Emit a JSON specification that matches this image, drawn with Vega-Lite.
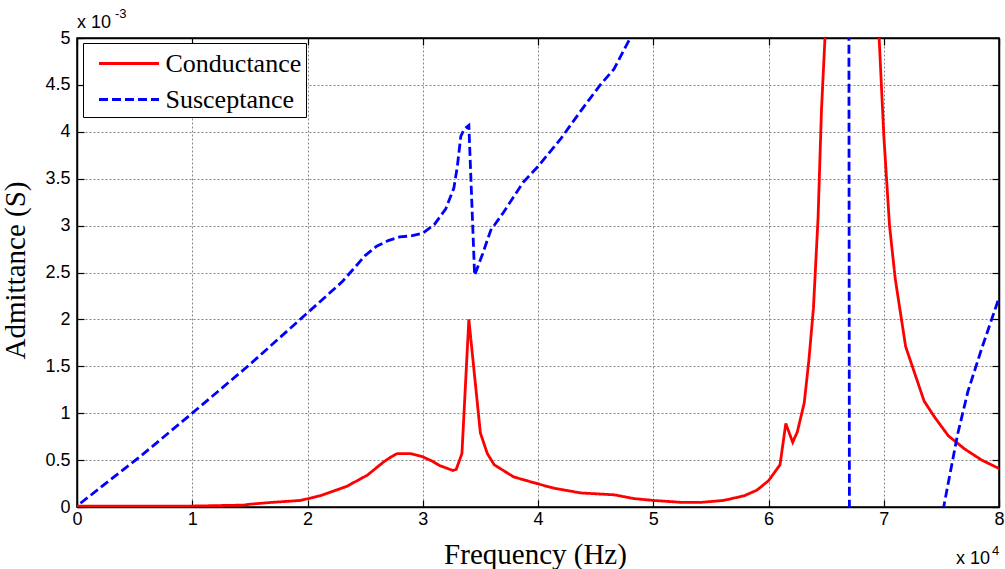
{
  "$schema": "https://vega.github.io/schema/vega-lite/v6.json",
  "width": 922,
  "height": 469,
  "autosize": {"type": "none"},
  "padding": {"left": 77, "top": 38, "right": 6, "bottom": 62},
  "background": "white",
  "config": {
    "view": {"stroke": "black", "strokeWidth": 1.5},
    "axis": {
      "domainColor": "black",
      "domainWidth": 1.5,
      "tickColor": "black",
      "tickWidth": 1.2,
      "tickSize": -7,
      "labelFont": "Liberation Sans",
      "labelFontSize": 18,
      "labelColor": "black",
      "labelFlush": false,
      "labelOverlap": false,
      "labelBound": false,
      "titleFont": "Liberation Serif",
      "titleFontSize": 29,
      "titleFontWeight": "normal",
      "titleColor": "black",
      "gridColor": "#7a7a7a",
      "gridDash": [2, 2],
      "gridWidth": 1,
      "gridOpacity": 0.9
    }
  },
  "data": {
    "values": [
      {"series": "Conductance", "freq": 0.0, "adm": 0.01},
      {"series": "Conductance", "freq": 0.5, "adm": 0.01},
      {"series": "Conductance", "freq": 1.0, "adm": 0.01},
      {"series": "Conductance", "freq": 1.45, "adm": 0.02},
      {"series": "Conductance", "freq": 1.5, "adm": 0.03},
      {"series": "Conductance", "freq": 1.7, "adm": 0.05},
      {"series": "Conductance", "freq": 1.94, "adm": 0.07},
      {"series": "Conductance", "freq": 2.11, "adm": 0.12},
      {"series": "Conductance", "freq": 2.34, "adm": 0.22},
      {"series": "Conductance", "freq": 2.52, "adm": 0.34},
      {"series": "Conductance", "freq": 2.66, "adm": 0.48},
      {"series": "Conductance", "freq": 2.72, "adm": 0.53},
      {"series": "Conductance", "freq": 2.78, "adm": 0.57},
      {"series": "Conductance", "freq": 2.89, "adm": 0.57},
      {"series": "Conductance", "freq": 2.99, "adm": 0.54},
      {"series": "Conductance", "freq": 3.08, "adm": 0.49},
      {"series": "Conductance", "freq": 3.15, "adm": 0.44},
      {"series": "Conductance", "freq": 3.26, "adm": 0.39},
      {"series": "Conductance", "freq": 3.29, "adm": 0.4},
      {"series": "Conductance", "freq": 3.34, "adm": 0.57},
      {"series": "Conductance", "freq": 3.4, "adm": 2.0},
      {"series": "Conductance", "freq": 3.5, "adm": 0.79},
      {"series": "Conductance", "freq": 3.56, "adm": 0.57},
      {"series": "Conductance", "freq": 3.62, "adm": 0.45},
      {"series": "Conductance", "freq": 3.79, "adm": 0.32},
      {"series": "Conductance", "freq": 3.99, "adm": 0.25},
      {"series": "Conductance", "freq": 4.14, "adm": 0.2},
      {"series": "Conductance", "freq": 4.37, "adm": 0.15},
      {"series": "Conductance", "freq": 4.66, "adm": 0.13},
      {"series": "Conductance", "freq": 4.83, "adm": 0.09},
      {"series": "Conductance", "freq": 5.0, "adm": 0.07},
      {"series": "Conductance", "freq": 5.24, "adm": 0.05},
      {"series": "Conductance", "freq": 5.42, "adm": 0.05},
      {"series": "Conductance", "freq": 5.61, "adm": 0.07},
      {"series": "Conductance", "freq": 5.79, "adm": 0.12},
      {"series": "Conductance", "freq": 5.9, "adm": 0.18},
      {"series": "Conductance", "freq": 6.0, "adm": 0.28},
      {"series": "Conductance", "freq": 6.1, "adm": 0.45},
      {"series": "Conductance", "freq": 6.15, "adm": 0.89},
      {"series": "Conductance", "freq": 6.21, "adm": 0.69},
      {"series": "Conductance", "freq": 6.25, "adm": 0.8},
      {"series": "Conductance", "freq": 6.31, "adm": 1.11},
      {"series": "Conductance", "freq": 6.35, "adm": 1.56},
      {"series": "Conductance", "freq": 6.39, "adm": 2.12},
      {"series": "Conductance", "freq": 6.43, "adm": 3.08},
      {"series": "Conductance", "freq": 6.46, "adm": 4.24},
      {"series": "Conductance", "freq": 6.49, "adm": 5.0},
      {"series": "Conductance", "freq": 6.55, "adm": 8.0},
      {"series": "Conductance", "freq": 6.7, "adm": 14.0},
      {"series": "Conductance", "freq": 6.9, "adm": 8.0},
      {"series": "Conductance", "freq": 6.96, "adm": 5.0},
      {"series": "Conductance", "freq": 7.0, "adm": 3.97},
      {"series": "Conductance", "freq": 7.05, "adm": 3.0},
      {"series": "Conductance", "freq": 7.1, "adm": 2.43},
      {"series": "Conductance", "freq": 7.19, "adm": 1.71},
      {"series": "Conductance", "freq": 7.27, "adm": 1.42},
      {"series": "Conductance", "freq": 7.35, "adm": 1.13},
      {"series": "Conductance", "freq": 7.44, "adm": 0.96},
      {"series": "Conductance", "freq": 7.56, "adm": 0.76},
      {"series": "Conductance", "freq": 7.7, "adm": 0.62},
      {"series": "Conductance", "freq": 7.85, "adm": 0.5},
      {"series": "Conductance", "freq": 8.0, "adm": 0.41},
      {"series": "Susceptance", "freq": 0.03, "adm": 0.04},
      {"series": "Susceptance", "freq": 0.55, "adm": 0.54},
      {"series": "Susceptance", "freq": 1.0, "adm": 1.0},
      {"series": "Susceptance", "freq": 1.5, "adm": 1.52},
      {"series": "Susceptance", "freq": 2.0, "adm": 2.07},
      {"series": "Susceptance", "freq": 2.3, "adm": 2.4},
      {"series": "Susceptance", "freq": 2.5, "adm": 2.68},
      {"series": "Susceptance", "freq": 2.6, "adm": 2.78},
      {"series": "Susceptance", "freq": 2.7, "adm": 2.84},
      {"series": "Susceptance", "freq": 2.8, "adm": 2.88},
      {"series": "Susceptance", "freq": 2.9, "adm": 2.89},
      {"series": "Susceptance", "freq": 3.0, "adm": 2.92},
      {"series": "Susceptance", "freq": 3.1, "adm": 3.01},
      {"series": "Susceptance", "freq": 3.2, "adm": 3.18},
      {"series": "Susceptance", "freq": 3.27, "adm": 3.4},
      {"series": "Susceptance", "freq": 3.3, "adm": 3.63},
      {"series": "Susceptance", "freq": 3.33, "adm": 3.95},
      {"series": "Susceptance", "freq": 3.36, "adm": 4.03},
      {"series": "Susceptance", "freq": 3.4, "adm": 4.07},
      {"series": "Susceptance", "freq": 3.45, "adm": 2.47},
      {"series": "Susceptance", "freq": 3.52, "adm": 2.7},
      {"series": "Susceptance", "freq": 3.59, "adm": 2.95},
      {"series": "Susceptance", "freq": 3.7, "adm": 3.14},
      {"series": "Susceptance", "freq": 3.87, "adm": 3.46},
      {"series": "Susceptance", "freq": 4.0, "adm": 3.63},
      {"series": "Susceptance", "freq": 4.2, "adm": 3.93},
      {"series": "Susceptance", "freq": 4.37, "adm": 4.22},
      {"series": "Susceptance", "freq": 4.54, "adm": 4.5},
      {"series": "Susceptance", "freq": 4.66, "adm": 4.67},
      {"series": "Susceptance", "freq": 4.8, "adm": 5.0},
      {"series": "Susceptance", "freq": 5.2, "adm": 5.6},
      {"series": "Susceptance", "freq": 6.0, "adm": 7.5},
      {"series": "Susceptance", "freq": 6.692, "adm": 12.0},
      {"series": "Susceptance", "freq": 6.712, "adm": -12.0},
      {"series": "Susceptance", "freq": 7.0, "adm": -3.0},
      {"series": "Susceptance", "freq": 7.52, "adm": 0.0},
      {"series": "Susceptance", "freq": 7.64, "adm": 0.77},
      {"series": "Susceptance", "freq": 7.73, "adm": 1.23},
      {"series": "Susceptance", "freq": 7.85, "adm": 1.69},
      {"series": "Susceptance", "freq": 8.0, "adm": 2.23}
    ]
  },
  "layer": [
    {
      "mark": {"type": "line", "clip": true, "strokeWidth": 2.8},
      "encoding": {
        "x": {
          "field": "freq", "type": "quantitative",
          "scale": {"domain": [0, 8], "nice": false, "zero": false},
          "axis": {
            "orient": "bottom", "values": [0, 1, 2, 3, 4, 5, 6, 7, 8], "format": "~g",
            "title": "Frequency (Hz)", "grid": true, "labelPadding": 10,
            "titleBaseline": "alphabetic", "titleY": 56, "titleX": 458
          }
        },
        "y": {
          "field": "adm", "type": "quantitative",
          "scale": {"domain": [0, 5], "nice": false, "zero": false},
          "axis": {
            "orient": "left", "values": [0, 0.5, 1, 1.5, 2, 2.5, 3, 3.5, 4, 4.5, 5], "format": "~g",
            "title": "Admittance (S)", "grid": true, "labelPadding": 14,
            "titleBaseline": "alphabetic", "titleX": -53, "titleY": 232
          }
        },
        "color": {
          "field": "series", "type": "nominal",
          "scale": {"domain": ["Conductance", "Susceptance"], "range": ["#ff0000", "#0000ff"]},
          "legend": {
            "title": null, "orient": "none", "legendX": 6, "legendY": 5,
            "padding": 4, "strokeColor": "black", "fillColor": "white", "cornerRadius": 0,
            "symbolType": "M-2,0H2", "symbolSize": 900, "symbolStrokeWidth": 2.8,
            "symbolOffset": 25.5, "labelOffset": 20, "rowPadding": 6,
            "labelFont": "Liberation Serif", "labelFontSize": 26, "labelColor": "black",
            "labelExpr": "datum.label + '\u00a0\u00a0'"
          }
        },
        "strokeDash": {
          "field": "series", "type": "nominal",
          "scale": {"domain": ["Conductance", "Susceptance"], "range": [[1, 0], [9, 4]]},
          "legend": {
            "title": null, "orient": "none", "legendX": 6, "legendY": 5,
            "padding": 4, "strokeColor": "black", "fillColor": "white", "cornerRadius": 0,
            "symbolType": "M-2,0H2", "symbolSize": 900, "symbolStrokeWidth": 2.8,
            "symbolOffset": 25.5, "labelOffset": 20, "rowPadding": 6,
            "labelFont": "Liberation Serif", "labelFontSize": 26, "labelColor": "black",
            "labelExpr": "datum.label + '\u00a0\u00a0'"
          }
        }
      }
    },
    {
      "mark": {"type": "point", "opacity": 0},
      "encoding": {
        "x": {
          "field": "freq", "type": "quantitative",
          "axis": {"orient": "top", "values": [0, 1, 2, 3, 4, 5, 6, 7, 8], "labels": false, "grid": false, "title": null}
        },
        "y": {
          "field": "adm", "type": "quantitative",
          "axis": {"orient": "right", "values": [0, 0.5, 1, 1.5, 2, 2.5, 3, 3.5, 4, 4.5, 5], "labels": false, "grid": false, "title": null}
        }
      }
    },
    {
      "data": {"values": [{}]},
      "mark": {"type": "text", "text": "x 10", "align": "left", "baseline": "alphabetic", "dx": 0, "dy": -10, "font": "Liberation Sans", "fontSize": 18, "color": "black"},
      "encoding": {
        "x": {"datum": 0, "type": "quantitative", "axis": null},
        "y": {"datum": 5, "type": "quantitative", "axis": null}
      }
    },
    {
      "data": {"values": [{}]},
      "mark": {"type": "text", "text": "-3", "align": "left", "baseline": "alphabetic", "dx": 38, "dy": -20, "font": "Liberation Sans", "fontSize": 13, "color": "black"},
      "encoding": {
        "x": {"datum": 0, "type": "quantitative", "axis": null},
        "y": {"datum": 5, "type": "quantitative", "axis": null}
      }
    },
    {
      "data": {"values": [{}]},
      "mark": {"type": "text", "text": "x 10", "align": "right", "baseline": "alphabetic", "dx": -9, "dy": 57, "font": "Liberation Sans", "fontSize": 18, "color": "black"},
      "encoding": {
        "x": {"datum": 8, "type": "quantitative", "axis": null},
        "y": {"datum": 0, "type": "quantitative", "axis": null}
      }
    },
    {
      "data": {"values": [{}]},
      "mark": {"type": "text", "text": "4", "align": "left", "baseline": "alphabetic", "dx": -7, "dy": 48, "font": "Liberation Sans", "fontSize": 13, "color": "black"},
      "encoding": {
        "x": {"datum": 8, "type": "quantitative", "axis": null},
        "y": {"datum": 0, "type": "quantitative", "axis": null}
      }
    }
  ],
  "resolve": {"axis": {"x": "independent", "y": "independent"}}
}
